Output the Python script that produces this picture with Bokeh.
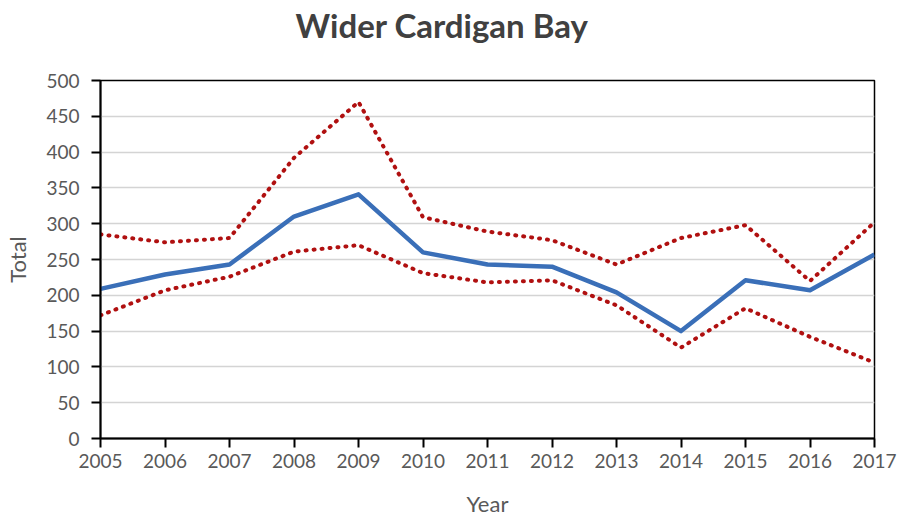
from bokeh.plotting import figure
from bokeh.models import Range1d, FixedTicker, Title
from bokeh.embed import file_html
from bokeh.resources import INLINE

years = [2005, 2006, 2007, 2008, 2009, 2010, 2011, 2012, 2013, 2014, 2015, 2016, 2017]
year_labels = ["2005", "2006", "2007", "2008", "2009", "2010", "2011", "2012", "2013", "2014", "2015", "2016", "2017"]
total = [209, 229, 243, 310, 341, 260, 243, 240, 204, 150, 221, 207, 257]
upper = [285, 274, 280, 392, 470, 309, 289, 277, 243, 280, 298, 220, 302]
lower = [172, 207, 226, 261, 270, 231, 218, 221, 186, 127, 182, 142, 106]
y_ticks = [0, 50, 100, 150, 200, 250, 300, 350, 400, 450, 500]
title_text = "Wider Cardigan Bay"

FONT = "Lato"

p = figure(width=897, height=521, output_backend="svg", toolbar_location=None,
           x_range=Range1d(2005, 2017), y_range=Range1d(0, 500),
           min_border_left=100, min_border_right=23, min_border_top=80, min_border_bottom=83)
p.title = None

spacer = Title(text=" ", text_font_size="10px", standoff=23)
p.add_layout(spacer, "above")
main_title = Title(text=title_text, text_font="Lato", text_font_size="33px",
                   text_font_style="bold", text_color="#404040", align="left",
                   offset=195, standoff=0)
p.add_layout(main_title, "above")

p.outline_line_color = "black"
p.outline_line_width = 1.5
p.background_fill_color = "white"
p.border_fill_color = "white"

p.xgrid.grid_line_color = None
p.ygrid.grid_line_color = "#d4d4d4"
p.ygrid.grid_line_width = 1.5
p.ygrid.ticker = FixedTicker(ticks=y_ticks)

p.xaxis.ticker = FixedTicker(ticks=years)
p.xaxis.major_label_overrides = {y: s for y, s in zip(years, year_labels)}
p.yaxis.ticker = FixedTicker(ticks=y_ticks)

for ax in (p.xaxis[0], p.yaxis[0]):
    ax.axis_line_color = "black"
    ax.axis_line_width = 2
    ax.major_tick_line_color = "black"
    ax.major_tick_line_width = 2
    ax.major_tick_out = 9
    ax.major_tick_in = 0
    ax.minor_tick_line_color = None
    ax.major_label_text_font = FONT
    ax.major_label_text_font_size = "19px"
    ax.major_label_text_color = "#595959"
    ax.axis_label_text_font = FONT
    ax.axis_label_text_font_size = "22px"
    ax.axis_label_text_color = "#595959"
    ax.axis_label_text_font_style = "normal"

p.xaxis.major_label_standoff = 6
p.xaxis.axis_label = "Year"
p.xaxis.axis_label_standoff = 19
p.yaxis.major_label_standoff = 12
p.yaxis.axis_label = "Total"
p.yaxis.axis_label_standoff = 12

p.line(years, upper, line_color="#b01010", line_width=4, line_dash="1 7", line_cap="round")
p.line(years, lower, line_color="#b01010", line_width=4, line_dash="1 7", line_cap="round")
p.line(years, total, line_color="#3a6fb8", line_width=4.5, line_join="round")

open("out.html", "w").write(file_html(p, INLINE))
